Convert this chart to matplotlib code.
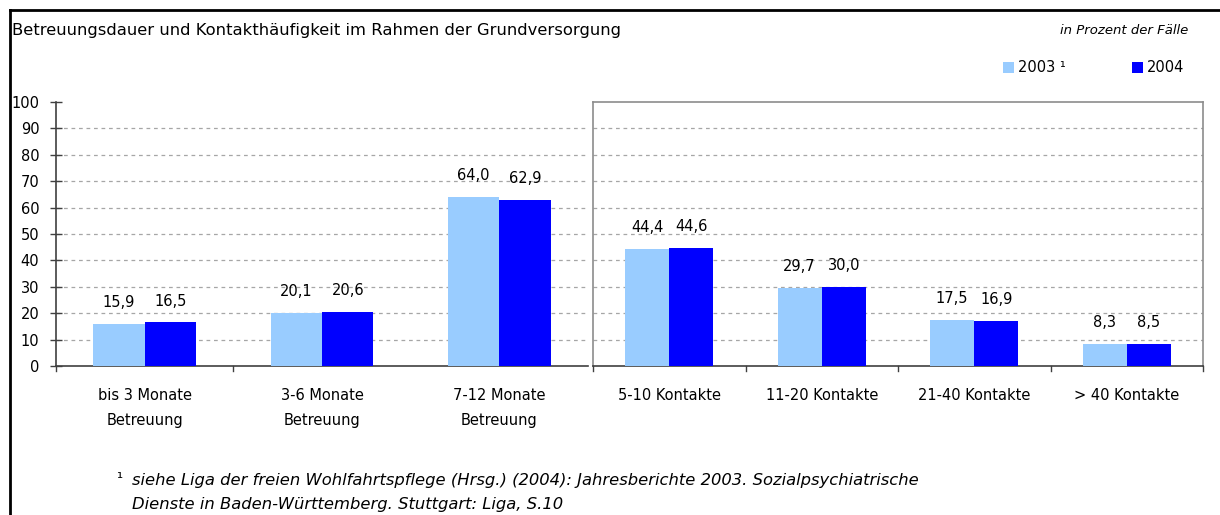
import matplotlib
matplotlib.use("Agg")
import matplotlib.pyplot as plt
from matplotlib.patches import Patch
from matplotlib.lines import Line2D
import numpy as np

plt.rcParams['font.family'] = ['DejaVu Sans']
plt.rcParams['font.size'] = 10

# data
dauer_cats = ["bis 3 Monate\nBetreuung", "3-6 Monate\nBetreuung", "7-12 Monate\nBetreuung"]
dauer_2003 = [15.9, 20.1, 64.0]
dauer_2004 = [16.5, 20.6, 62.9]

kontakt_cats = ["5-10 Kontakte", "11-20 Kontakte", "21-40 Kontakte", "> 40 Kontakte"]
kontakt_2003 = [44.4, 29.7, 17.5, 8.3]
kontakt_2004 = [44.6, 30.0, 16.9, 8.5]

series_names = ["2003 \u00b9", "2004"]
yticks = list(range(0, 101, 10))

LIGHT = "#99CCFF"
DARK = "#0000FF"
AXC = "#404040"
GRID = "#A6A6A6"
BW = 0.29


def fmt(v):
    return f"{v:.1f}".replace(".", ",")


def draw_bars(ax, v03, v04):
    x = np.arange(len(v03))
    b1 = ax.bar(x - BW / 2, v03, BW, color=LIGHT, zorder=3)
    b2 = ax.bar(x + BW / 2, v04, BW, color=DARK, zorder=3)
    for bars, vals in ((b1, v03), (b2, v04)):
        for r, v in zip(bars, vals):
            ax.annotate(fmt(v), (r.get_x() + r.get_width() / 2, v),
                        xytext=(0, 10), textcoords="offset points",
                        ha="center", va="bottom", fontsize=10.5)
    ax.set_ylim(0, 100)
    ax.set_xlim(-0.5, len(v03) - 0.5)
    ax.set_yticks(yticks)
    for t in yticks[1:-1]:
        ax.axhline(t, color=GRID, lw=0.9, ls=(0, (3, 3)), zorder=1)
    ax.tick_params(axis="x", length=0, pad=16, labelsize=10.5)
    return x


fig = plt.figure(figsize=(12.2, 5.15), dpi=100)

# left panel: Betreuungsdauer
ax1 = fig.add_axes([56 / 1220, 1 - 366 / 515, 532 / 1220, 264 / 515])
x1 = draw_bars(ax1, dauer_2003, dauer_2004)
ax1.set_xticks(x1)
ax1.set_xticklabels(dauer_cats, linespacing=1.85)
ax1.spines["top"].set_visible(False)
ax1.spines["right"].set_visible(False)
for s in ("left", "bottom"):
    ax1.spines[s].set_color(AXC)
    ax1.spines[s].set_linewidth(1.2)
ax1.tick_params(axis="y", direction="inout", length=8, width=1, color=AXC, pad=8,
                labelsize=10.5)
for xb in (-0.5, 0.5):
    ax1.plot([xb, xb], [0, -2], color=AXC, lw=1, clip_on=False, zorder=4)

# right panel: Kontakthaeufigkeit
ax2 = fig.add_axes([593 / 1220, 1 - 366 / 515, 610 / 1220, 264 / 515])
x2 = draw_bars(ax2, kontakt_2003, kontakt_2004)
ax2.set_xticks(x2)
ax2.set_xticklabels(kontakt_cats)
ax2.tick_params(axis="y", left=False, labelleft=False)
for s in ("left", "top", "right"):
    ax2.spines[s].set_color("#8C8C8C")
    ax2.spines[s].set_linewidth(1.2)
ax2.spines["bottom"].set_color(AXC)
ax2.spines["bottom"].set_linewidth(1.2)
for xb in np.arange(len(kontakt_cats) + 1) - 0.5:
    ax2.plot([xb, xb], [0, -2], color=AXC, lw=1, clip_on=False, zorder=4)

# header texts
fig.text(12 / 1220, 1 - 30 / 515, "Betreuungsdauer und Kontakthäufigkeit im Rahmen der Grundversorgung",
         ha="left", va="center", fontsize=11.8)
fig.text(1188 / 1220, 1 - 30 / 515, "in Prozent der Fälle", ha="right", va="center",
         fontsize=9.5, style="italic")

handles = [Patch(facecolor=LIGHT), Patch(facecolor=DARK)]
fig.legend(handles, series_names, loc="center left", bbox_to_anchor=(1003 / 1220, 1 - 68 / 515),
           ncol=2, frameon=False, handlelength=0.75, handleheight=0.75, handletextpad=0.25,
           columnspacing=4.6, fontsize=10.5, borderaxespad=0, borderpad=0)

# footnote
fig.text(116 / 1220, 1 - 479 / 515, "\u00b9", ha="left", va="center", fontsize=11)
fig.text(132 / 1220, 1 - 481 / 515,
         "siehe Liga der freien Wohlfahrtspflege (Hrsg.) (2004): Jahresberichte 2003. Sozialpsychiatrische",
         ha="left", va="center", fontsize=11.8, style="italic")
fig.text(132 / 1220, 1 - 505 / 515, "Dienste in Baden-Württemberg. Stuttgart: Liga, S.10",
         ha="left", va="center", fontsize=11.8, style="italic")

# outer frame (left and top edges)
fig.add_artist(Line2D([10 / 1220, 10 / 1220], [0, 1 - 10 / 515], color="black", lw=2,
                      transform=fig.transFigure))
fig.add_artist(Line2D([10 / 1220, 1], [1 - 10 / 515, 1 - 10 / 515], color="black", lw=2,
                      transform=fig.transFigure))

fig.savefig("out.png", dpi=100)
